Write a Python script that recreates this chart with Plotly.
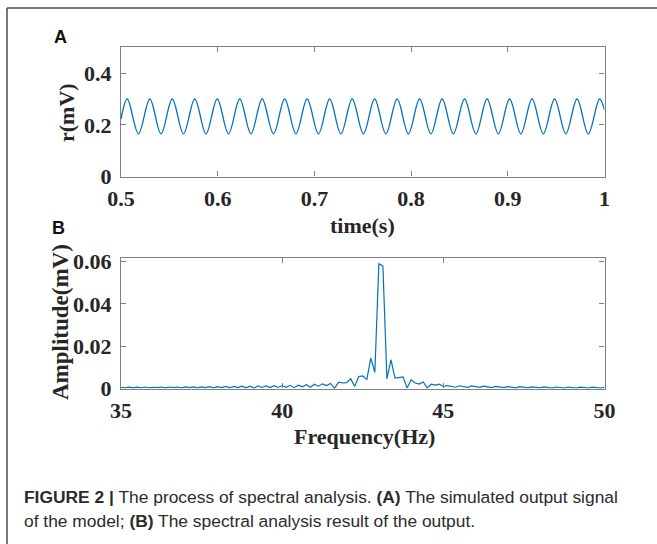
import plotly.graph_objects as go

W, H = 657, 544

# ---- Panel A: simulated output signal (peaks/troughs) ----
signal_t = [0.5000,
            0.5065, 0.5181, 0.5298, 0.5414, 0.5530, 0.5646, 0.5763, 0.5879,
            0.5995, 0.6112, 0.6228, 0.6344, 0.6460, 0.6577, 0.6693, 0.6809,
            0.6925, 0.7042, 0.7158, 0.7274, 0.7391, 0.7507, 0.7623, 0.7739,
            0.7856, 0.7972, 0.8088, 0.8205, 0.8321, 0.8437, 0.8553, 0.8670,
            0.8786, 0.8902, 0.9019, 0.9135, 0.9251, 0.9367, 0.9484, 0.9600,
            0.9716, 0.9832, 0.9949,
            1.0000]
signal_r = [0.222,
            0.300, 0.165, 0.300, 0.165, 0.300, 0.165, 0.300, 0.165,
            0.300, 0.165, 0.300, 0.165, 0.300, 0.165, 0.300, 0.165,
            0.300, 0.165, 0.300, 0.165, 0.300, 0.165, 0.300, 0.165,
            0.300, 0.165, 0.300, 0.165, 0.300, 0.165, 0.300, 0.165,
            0.300, 0.165, 0.300, 0.165, 0.300, 0.165, 0.300, 0.165,
            0.300, 0.165, 0.300,
            0.258]

# ---- Panel B: amplitude spectrum ----
freq_hz = [35.0, 35.125, 35.25, 35.375, 35.5, 35.625, 35.75, 35.875,
           36.0, 36.125, 36.25, 36.375, 36.5, 36.625, 36.75, 36.875,
           37.0, 37.125, 37.25, 37.375, 37.5, 37.625, 37.75, 37.875,
           38.0, 38.125, 38.25, 38.375, 38.5, 38.625, 38.75, 38.875,
           39.0, 39.125, 39.25, 39.375, 39.5, 39.625, 39.75, 39.875,
           40.0, 40.125, 40.25, 40.375, 40.5, 40.625, 40.75, 40.875,
           41.0, 41.125, 41.25, 41.375, 41.5, 41.625, 41.75, 41.875,
           42.0, 42.125, 42.25, 42.375, 42.5, 42.625, 42.75, 42.875,
           43.0, 43.125, 43.25, 43.375, 43.5, 43.625, 43.75, 43.875,
           44.0, 44.125, 44.25, 44.375, 44.5, 44.625, 44.75, 44.875,
           45.0, 45.125, 45.25, 45.375, 45.5, 45.625, 45.75, 45.875,
           46.0, 46.125, 46.25, 46.375, 46.5, 46.625, 46.75, 46.875,
           47.0, 47.125, 47.25, 47.375, 47.5, 47.625, 47.75, 47.875,
           48.0, 48.125, 48.25, 48.375, 48.5, 48.625, 48.75, 48.875,
           49.0, 49.125, 49.25, 49.375, 49.5, 49.625, 49.75, 49.875,
           50.0]
amplitude_mv = [0.0006, 0.0003, 0.0006, 0.0003, 0.0006, 0.0003, 0.0007, 0.0003,
                0.0006, 0.0004, 0.0007, 0.0003, 0.0007, 0.0004, 0.0007, 0.0003,
                0.0008, 0.0004, 0.0008, 0.0003, 0.0008, 0.0004, 0.0009, 0.0003,
                0.0009, 0.0004, 0.0010, 0.0003, 0.0010, 0.0004, 0.0011, 0.0003,
                0.0011, 0.0002, 0.0012, 0.0005, 0.0012, 0.0004, 0.0013, 0.0005,
                0.0014, 0.0006, 0.0015, 0.0004, 0.0016, 0.0008, 0.0018, 0.0006,
                0.0020, 0.0011, 0.0022, 0.0014, 0.0024, 0.0001, 0.0030, 0.0026,
                0.0028, 0.0046, 0.0010, 0.0057, 0.0060, 0.0042, 0.0144, 0.0077,
                0.0590, 0.0580, 0.0045, 0.0136, 0.0049, 0.0052, 0.0055, 0.0002,
                0.0041, 0.0026, 0.0021, 0.0031, 0.0003, 0.0020, 0.0016, 0.0021,
                0.0009, 0.0014, 0.0011, 0.0006, 0.0013, 0.0009, 0.0005, 0.0012,
                0.0008, 0.0005, 0.0011, 0.0008, 0.0004, 0.0010, 0.0007, 0.0004,
                0.0009, 0.0007, 0.0003, 0.0009, 0.0006, 0.0003, 0.0008, 0.0006,
                0.0003, 0.0008, 0.0005, 0.0002, 0.0007, 0.0005, 0.0002, 0.0007,
                0.0005, 0.0002, 0.0006, 0.0004, 0.0002, 0.0006, 0.0004, 0.0002,
                0.0005]

a_xticks = [0.5, 0.6, 0.7, 0.8, 0.9, 1.0]
a_xlabels = ["0.5", "0.6", "0.7", "0.8", "0.9", "1"]
a_yticks = [0, 0.2, 0.4]
a_ylabels = ["0", "0.2", "0.4"]
b_xticks = [35, 40, 45, 50]
b_xlabels = ["35", "40", "45", "50"]
b_yticks = [0, 0.02, 0.04, 0.06]
b_ylabels = ["0", "0.02", "0.04", "0.06"]

LINE = "#0072BD"
AXC = "#808080"
TXT = "#262626"
SERIF = "Liberation Serif, Times New Roman, serif"
SANS = "Liberation Sans, Arial, Helvetica, sans-serif"


def px(x):
    return x / W


def py(y):
    return 1 - y / H


fig = go.Figure()
fig.add_trace(go.Scatter(x=signal_t, y=signal_r, mode="lines",
                         line=dict(color=LINE, width=1.3, shape="spline", smoothing=1.0),
                         xaxis="x", yaxis="y", showlegend=False, hoverinfo="skip"))
fig.add_trace(go.Scatter(x=freq_hz, y=amplitude_mv, mode="lines",
                         line=dict(color=LINE, width=1.2),
                         xaxis="x2", yaxis="y2", showlegend=False, hoverinfo="skip"))

axis_common = dict(showgrid=False, zeroline=False, showline=True, linecolor=AXC,
                   linewidth=1.3, mirror="ticks", ticks="inside", ticklen=5,
                   tickcolor=AXC, tickwidth=1.3, automargin=False,
                   tickfont=dict(family=SERIF, size=22, color=TXT, weight="bold"))

fig.update_layout(
    width=W, height=H, margin=dict(l=0, r=0, t=0, b=0),
    paper_bgcolor="white", plot_bgcolor="white",
    xaxis=dict(domain=[px(121), px(604.5)], range=[0.5, 1.0], anchor="y",
               tickvals=a_xticks, ticktext=a_xlabels, ticklabelstandoff=2, **axis_common),
    yaxis=dict(domain=[py(176.5), py(47.3)], range=[0, 0.5], anchor="x",
               tickvals=a_yticks, ticktext=a_ylabels, ticklabelstandoff=4, **axis_common),
    xaxis2=dict(domain=[px(121), px(604.5)], range=[35, 50], anchor="y2",
                tickvals=b_xticks, ticktext=b_xlabels, ticklabelstandoff=2, **axis_common),
    yaxis2=dict(domain=[py(388.5), py(258.3)], range=[0, 0.0616], anchor="x2",
                tickvals=b_yticks, ticktext=b_ylabels, ticklabelstandoff=4, **axis_common),
)

annos = [
    dict(text="<b>time(s)</b>", x=px(362), y=py(225), font=dict(family=SERIF, size=22, color=TXT)),
    dict(text="<b>r(mV)</b>", x=px(66), y=py(113), textangle=-90, font=dict(family=SERIF, size=22, color=TXT)),
    dict(text="<b>Frequency(Hz)</b>", x=px(364), y=py(436), font=dict(family=SERIF, size=22, color=TXT)),
    dict(text="<b>Amplitude(mV)</b>", x=px(60), y=py(322), textangle=-90, font=dict(family=SERIF, size=23, color=TXT)),
    dict(text="<b>A</b>", x=px(60), y=py(37), font=dict(family=SANS, size=18, color="#111111")),
    dict(text="<b>B</b>", x=px(58), y=py(228), font=dict(family=SANS, size=18, color="#111111")),
]
for a in annos:
    fig.add_annotation(xref="paper", yref="paper", showarrow=False,
                       xanchor="center", yanchor="middle", **a)

cap1 = "<b>FIGURE 2 |</b> The process of spectral analysis. <b>(A)</b> The simulated output signal"
cap2 = "of the model; <b>(B)</b> The spectral analysis result of the output."
for txt, yy in [(cap1, 497), (cap2, 521)]:
    fig.add_annotation(xref="paper", yref="paper", showarrow=False,
                       x=px(22), y=py(yy), xanchor="left", yanchor="middle",
                       text=txt, font=dict(family=SANS, size=17.4, color="#2b2b2b"))

# outer frame (top and left edges visible)
fig.add_shape(type="line", xref="paper", yref="paper", x0=px(7), x1=1.0, y0=py(8), y1=py(8),
              line=dict(color="#4d4d4d", width=1.5))
fig.add_shape(type="line", xref="paper", yref="paper", x0=px(7), x1=px(7), y0=py(8), y1=0,
              line=dict(color="#4d4d4d", width=1.5))

fig.write_html("out.html", config={"displayModeBar": False},
               post_script="document.body.style.margin='0';document.body.style.overflow='hidden';")
